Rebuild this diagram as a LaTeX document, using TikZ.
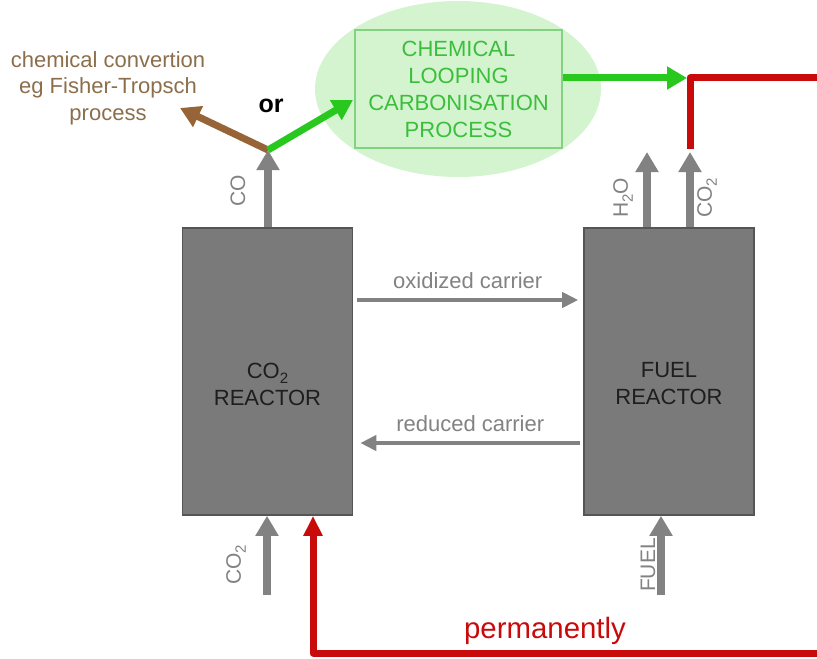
\documentclass[tikz,border=0pt]{standalone}
\usepackage{fontspec}
\setmainfont{Liberation Sans}
\usetikzlibrary{shapes.geometric, arrows.meta, calc}
\definecolor{colGrey}     {RGB}{130, 130, 130}
\definecolor{colBox}      {RGB}{122, 122, 122}
\definecolor{colBoxLine}  {RGB}{ 85,  85,  85}
\definecolor{colDark}     {RGB}{ 30,  30,  30}
\definecolor{colGreen}    {RGB}{ 40, 200,  30}
\definecolor{colGreenTxt} {RGB}{ 60, 190,  60}
\definecolor{colGreenLine}{RGB}{130, 210, 130}
\definecolor{colBlob}     {RGB}{212, 244, 208}
\definecolor{colBrown}    {RGB}{150, 100,  55}
\definecolor{colBrownTxt} {RGB}{140, 110,  75}
\definecolor{colRed}      {RGB}{200,  10,  10}
\newcommand{\lowsub}[1]{\raisebox{-0.45ex}{\fontsize{7.5}{8}\selectfont #1}}
\tikzset{
  reactor/.style={
    rectangle, draw=colBoxLine, line width=0.8pt, fill=colBox,
    minimum width=85pt, minimum height=143.5pt, inner sep=0pt
  },
  reactortxt/.style={
    text=colDark, align=center, inner sep=0pt,
    font=\fontsize{11}{13.5}\selectfont
  },
  blob/.style={
    ellipse, fill=colBlob, minimum width=143pt, minimum height=88pt,
    inner sep=0pt
  },
  procbox/.style={
    rectangle, draw=colGreenLine, line width=0.8pt, fill=colBlob,
    text=colGreenTxt, align=center, inner sep=0pt,
    minimum width=103.5pt, minimum height=59pt,
    font=\fontsize{11}{13.5}\selectfont
  },
  flowup/.style={
    -{Triangle[width=11pt,length=10pt]}, line width=4pt, draw=colGrey
  },
  carrier/.style={
    -{Triangle[width=7.5pt,length=8pt]}, line width=2pt, draw=colGrey
  },
  greenflow/.style={
    -{Triangle[width=11pt,length=10pt]}, line width=3.5pt, draw=colGreen
  },
  brownflow/.style={
    -{Triangle[width=11pt,length=10pt]}, line width=3.5pt, draw=colBrown
  },
  redloop/.style={
    -{Triangle[width=9pt,length=10pt]}, line width=3.5pt, draw=colRed,
    line join=round
  },
  lbl/.style={
    font=\fontsize{11}{13}\selectfont, text=colGrey, inner sep=0pt
  },
  rotlbl/.style={
    font=\fontsize{10.5}{12}\selectfont, text=colGrey, rotate=90,
    inner sep=0pt
  },
}

\begin{document}
\begin{tikzpicture}[x=0.5pt, y=-0.5pt]
\useasboundingbox (0,0) rectangle (817,658);
\clip (0,0) rectangle (817,658);

%% ══════════════════════════════════════════════════════════════
%%  REACTORS
%% ══════════════════════════════════════════════════════════════
\node[reactor] (co2r)  at (267.5,371.5) {};
\node[reactor] (fuelr) at (669,371.5) {};
\node[reactortxt] (co2rtxt)  at (267.5,384) {CO\lowsub{2}\\REACTOR};
\node[reactortxt] (fuelrtxt) at (669,384) {FUEL\\REACTOR};

%% ── carrier arrows ──────────────────────────────────────────
\draw[carrier] ($(co2r.east)+(4,-71.5)$) -- ($(fuelr.west)+(-5,-71.5)$)
  node[lbl, midway, above=4.5pt] (oxlbl) {oxidized carrier};
\draw[carrier] ($(fuelr.west)+(-3,71.5)$) -- ($(co2r.east)+(7,71.5)$)
  node[lbl, midway, above=4.5pt] (redlbl) {reduced carrier};

%% ══════════════════════════════════════════════════════════════
%%  CHEMICAL LOOPING CARBONISATION  (top)
%% ══════════════════════════════════════════════════════════════
\node[blob] (blob) at (458,89) {};
\node[procbox] (clcp) at (458.5,89)
  {CHEMICAL\\LOOPING\\CARBONISATION\\PROCESS};

\node[font=\fontsize{11}{13.25}\selectfont, text=colBrownTxt, align=center]
  (fischer) at (108,88) {chemical convertion\\eg Fisher-Tropsch\\process};
\node[font=\fontsize{12.5}{14}\selectfont\bfseries] (or) at (271,106) {or};

%% ── CO split ────────────────────────────────────────────────
\coordinate (split)    at (268,150);
\coordinate (fishTip)  at (180,108);
\coordinate (clcpIn)   at (353,100);
\draw[flowup] (co2r.north -| split) -- (split);
\draw[brownflow] (split) -- (fishTip);
\draw[greenflow] (split) -- (clcpIn);
\node[rotlbl] (colbl) at (238,191) {CO};

%% ── fuel reactor outputs ────────────────────────────────────
\coordinate (h2oOut) at (647,152);
\coordinate (co2Out) at (690,152);
\draw[flowup] (fuelr.north -| h2oOut) -- (h2oOut);
\draw[flowup] (fuelr.north -| co2Out) -- (co2Out);
\node[rotlbl] (h2olbl)  at (623,198) {H\lowsub{2}O};
\node[rotlbl] (co2olbl) at (707,198) {CO\lowsub{2}};

%% ── green product arrow ─────────────────────────────────────
\coordinate (joinTop) at (687,78);
\draw[greenflow] (clcp.east |- joinTop) -- (joinTop);

%% ══════════════════════════════════════════════════════════════
%%  INPUTS  (bottom)
%% ══════════════════════════════════════════════════════════════
\coordinate (co2In)  at (267,595);
\coordinate (fuelIn) at (661,595);
\draw[flowup] (co2In) -- (co2r.south -| co2In);
\draw[flowup] (fuelIn) -- (fuelr.south -| fuelIn);
\node[rotlbl] (co2ilbl)  at (236,565) {CO\lowsub{2}};
\node[rotlbl] (fuelilbl) at (648,565) {FUEL};

%% ══════════════════════════════════════════════════════════════
%%  CO2 RECYCLE LOOP
%% ══════════════════════════════════════════════════════════════
\coordinate (loopStart) at (690,149);
\coordinate (loopNW)    at (690,78);
\coordinate (loopNE)    at (840,78);
\coordinate (loopSE)    at (840,653);
\coordinate (loopSW)    at (313,653);
\draw[redloop] (loopStart) -- (loopNW) -- (loopNE) -- (loopSE)
  -- (loopSW) -- (co2r.south -| loopSW);
\node[font=\fontsize{14.7}{16}\selectfont, text=colRed] (perm)
  at (545,631) {permanently};

\end{tikzpicture}
\end{document}
